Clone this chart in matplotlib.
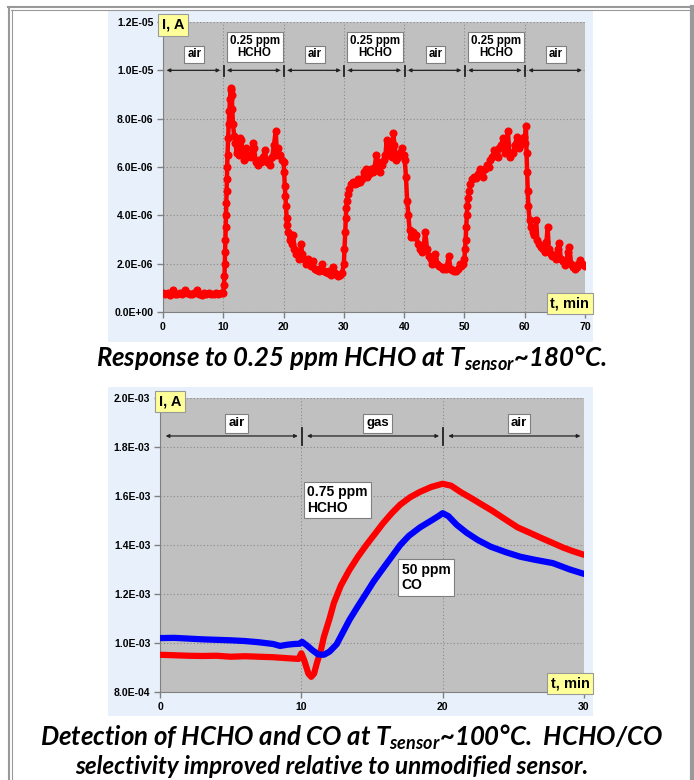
import matplotlib
matplotlib.use("Agg")
import matplotlib.pyplot as plt
from matplotlib.patches import Rectangle
from matplotlib.lines import Line2D
from matplotlib.ticker import FuncFormatter, MultipleLocator

plt.rcParams['font.family'] = ['Liberation Sans', 'DejaVu Sans']
plt.rcParams['mathtext.fontset'] = 'custom'
plt.rcParams['mathtext.it'] = 'Lato:italic:bold'
plt.rcParams['mathtext.rm'] = 'Lato:italic:bold'

# top chart: 0.25 ppm HCHO pulses, t in min, I in 1e-6 A
t_top = [0.0, 0.4, 0.8, 1.2, 1.6, 2.0, 2.4, 2.8, 3.2, 3.6, 4.0, 4.4, 4.8, 5.2, 5.6, 6.0, 6.4, 6.8, 7.2, 7.6,
         8.0, 8.4, 8.8, 9.2, 9.6, 10.0, 10.1, 10.2, 10.25, 10.3, 10.35, 10.4, 10.45, 10.5, 10.55, 10.6, 10.65,
         10.7, 10.8, 10.9, 11.0, 11.1, 11.2, 11.3, 11.4, 11.5, 11.6, 11.8, 12.0, 12.2, 12.4, 12.6, 12.8, 13.0,
         13.2, 13.5, 13.8, 14.0, 14.3, 14.6, 14.9, 15.1, 15.4, 15.7, 16.0, 16.3, 16.6, 16.9, 17.2, 17.5, 17.8,
         18.1, 18.4, 18.7, 18.9, 19.1, 19.4, 19.7, 20.0, 20.1, 20.2, 20.3, 20.4, 20.5, 20.6, 20.8, 21.0, 21.2,
         21.4, 21.6, 21.8, 22.0, 22.3, 22.6, 22.9, 23.1, 23.4, 23.7, 24.0, 24.3, 24.6, 24.9, 25.2, 25.5, 25.8,
         26.1, 26.4, 26.7, 27.0, 27.3, 27.6, 27.9, 28.2, 28.5, 28.8, 29.1, 29.4, 29.7, 30.0, 30.1, 30.2, 30.3,
         30.4, 30.5, 30.7, 30.9, 31.2, 31.5, 31.8, 32.1, 32.4, 32.7, 33.0, 33.3, 33.6, 33.9, 34.2, 34.5, 34.8,
         35.1, 35.4, 35.7, 36.0, 36.3, 36.6, 36.9, 37.1, 37.4, 37.7, 38.0, 38.2, 38.4, 38.7, 39.0, 39.3, 39.6,
         39.9, 40.1, 40.3, 40.5, 40.7, 40.9, 41.1, 41.4, 41.7, 42.0, 42.3, 42.6, 42.9, 43.2, 43.5, 43.8, 44.1,
         44.4, 44.7, 45.0, 45.2, 45.5, 45.8, 46.1, 46.4, 46.7, 47.0, 47.4, 47.7, 48.0, 48.3, 48.6, 48.9, 49.2,
         49.5, 49.8, 50.0, 50.1, 50.2, 50.3, 50.4, 50.5, 50.6, 50.8, 51.0, 51.3, 51.6, 51.9, 52.2, 52.5, 52.8,
         53.1, 53.4, 53.7, 54.0, 54.3, 54.6, 54.9, 55.2, 55.5, 55.8, 56.1, 56.4, 56.7, 57.0, 57.2, 57.5, 57.8,
         58.1, 58.4, 58.7, 59.0, 59.3, 59.6, 59.8, 60.0, 60.2, 60.3, 60.4, 60.5, 60.6, 60.8, 61.0, 61.3, 61.6,
         61.9, 62.1, 62.4, 62.7, 63.0, 63.3, 63.6, 63.8, 64.0, 64.3, 64.6, 64.9, 65.2, 65.5, 65.7, 66.0, 66.3,
         66.6, 66.9, 67.2, 67.4, 67.7, 68.0, 68.3, 68.6, 68.9, 69.2, 69.5, 69.8, 70.0]
i_top = [0.78, 0.74, 0.80, 0.72, 0.92, 0.76, 0.74, 0.78, 0.76, 0.90, 0.78, 0.74, 0.76, 0.78, 0.92, 0.74, 0.72, 0.78, 0.74, 0.78,
         0.76, 0.74, 0.78, 0.76, 0.80, 0.78, 1.1, 1.5, 2.0, 2.5, 3.0, 3.5, 4.0, 4.5, 5.0, 5.5, 6.0,
         6.5, 7.2, 7.8, 8.3, 8.8, 9.2, 9.25, 9.0, 8.4, 7.8, 7.3, 7.0, 6.6, 6.9, 6.5, 7.2, 7.1,
         6.6, 6.3, 6.8, 6.4, 6.5, 6.4, 7.0, 6.8, 6.2, 6.1, 6.3, 6.2, 6.4, 6.7, 6.2, 6.3, 6.1,
         6.4, 6.9, 7.5, 6.5, 6.8, 6.5, 6.3, 6.2, 5.8, 5.2, 4.8, 4.4, 3.9, 3.6, 3.3, 3.0, 3.2,
         2.8, 3.2, 2.6, 2.4, 2.5, 2.2, 2.8, 2.4, 2.2, 2.0, 2.2, 2.0, 1.9, 2.1, 1.8, 1.75, 1.7,
         1.8, 2.0, 1.7, 1.65, 1.6, 1.7, 1.55, 1.85, 1.6, 1.55, 1.5, 1.55, 1.6, 2.0, 2.6, 3.3, 3.9,
         4.3, 4.6, 4.9, 5.1, 5.3, 5.4, 5.3, 5.35, 5.5, 5.4, 5.5, 5.8, 5.9, 5.6, 5.7, 5.9, 5.8,
         6.0, 6.5, 6.2, 5.8, 6.1, 6.3, 6.5, 7.1, 6.5, 6.9, 6.4, 7.4, 6.9, 6.3, 6.4, 6.6, 6.8,
         6.5, 6.3, 5.6, 4.6, 4.0, 3.4, 3.1, 3.3, 3.1, 3.2, 2.8, 2.6, 2.5, 2.7, 3.3, 2.6, 2.3,
         2.2, 2.0, 2.2, 2.4, 2.0, 1.9, 1.85, 1.8, 1.85, 1.8, 2.3, 1.8, 1.72, 1.68, 1.7, 1.8, 2.0,
         1.9, 2.0, 2.2, 2.6, 3.0, 3.5, 4.0, 4.4, 4.7, 5.0, 5.3, 5.5, 5.6, 5.55, 5.7, 5.9, 5.8,
         5.6, 5.9, 6.1, 6.0, 6.3, 6.4, 6.7, 6.5, 6.4, 6.8, 6.9, 7.2, 6.6, 6.9, 7.5, 6.4, 6.6,
         6.6, 6.9, 7.25, 6.8, 6.9, 7.0, 7.25, 7.0, 7.7, 6.6, 5.8, 5.0, 4.4, 3.8, 3.5, 3.3, 3.2,
         3.8, 3.0, 2.8, 2.7, 2.6, 2.5, 2.9, 3.5, 2.6, 2.4, 2.3, 2.35, 2.2, 2.6, 2.85, 2.2, 2.1,
         1.95, 2.1, 2.5, 2.7, 2.0, 1.85, 1.8, 1.85, 2.0, 2.15, 2.0, 1.95, 1.9]
top_segments = ['air', '0.25 ppm\nHCHO', 'air', '0.25 ppm\nHCHO', 'air', '0.25 ppm\nHCHO', 'air']
top_bounds = [0, 10, 20, 30, 40, 50, 60, 70]

# bottom chart: I in 1e-3 A
t_hcho = [0, 1, 2, 3, 4, 5, 6, 7, 8, 9, 9.8, 10.0, 10.2, 10.5, 10.7, 10.9, 11.1, 11.4, 11.6, 12.0, 12.3,
          12.8, 13.4, 14.0, 14.6, 15.2, 15.8, 16.4, 17.0, 17.7, 18.4, 19.2, 20.0, 20.6, 21.3, 22.0, 22.6,
          23.5, 24.5, 25.3, 26.2, 27.0, 27.8, 28.5, 29.2, 30.0]
i_hcho = [0.952, 0.950, 0.948, 0.947, 0.948, 0.944, 0.946, 0.944, 0.942, 0.938, 0.935, 0.958, 0.930, 0.875,
          0.862, 0.875, 0.918, 0.975, 1.026, 1.100, 1.163, 1.235, 1.298, 1.352, 1.400, 1.445, 1.490, 1.530,
          1.565, 1.595, 1.617, 1.637, 1.650, 1.642, 1.615, 1.592, 1.571, 1.540, 1.502, 1.472, 1.449, 1.428,
          1.408, 1.390, 1.375, 1.360]
t_co = [0, 1, 2, 3, 4, 5, 6, 7, 8, 8.5, 9, 9.5, 9.9, 10.05, 10.4, 10.8, 11.2, 11.6, 12.0, 12.5, 13.0,
        13.4, 14.0, 14.6, 15.1, 15.6, 16.3, 17.0, 17.6, 18.4, 19.2, 19.7, 20.0, 20.4, 21.0, 21.7, 22.5,
        23.4, 24.5, 25.5, 26.5, 27.8, 29.0, 30.0]
i_co = [1.020, 1.021, 1.018, 1.015, 1.013, 1.011, 1.008, 1.003, 0.996, 0.988, 0.993, 0.996, 0.997, 1.005,
        0.990, 0.970, 0.953, 0.952, 0.965, 0.995, 1.050, 1.094, 1.150, 1.204, 1.250, 1.290, 1.345, 1.400,
        1.437, 1.472, 1.500, 1.518, 1.530, 1.518, 1.482, 1.450, 1.420, 1.393, 1.370, 1.352, 1.340, 1.326,
        1.300, 1.282]
bot_segments = ['air', 'gas', 'air']
bot_bounds = [0, 10, 20, 30]

W, H = 694, 780
fig = plt.figure(figsize=(W / 100, H / 100), dpi=100)

def fx(px): return px / W
def fy(py): return 1 - py / H

# light blue panels and page border
for y0, y1 in [(10, 342), (387, 716)]:
    fig.patches.append(Rectangle((fx(108), fy(y1)), fx(593) - fx(108), fy(y0) - fy(y1),
                                 transform=fig.transFigure, facecolor='#e8f1fb', edgecolor='none', zorder=-1))
g = '#999999'
fig.lines += [Line2D([fx(8), 1], [fy(7), fy(7)], lw=1.5, color=g, transform=fig.transFigure),
              Line2D([fx(11), fx(690)], [fy(10), fy(10)], lw=0.8, color=g, transform=fig.transFigure),
              Line2D([fx(9), fx(9)], [0, fy(7)], lw=1.5, color=g, transform=fig.transFigure),
              Line2D([fx(12), fx(12)], [0, fy(10)], lw=0.8, color=g, transform=fig.transFigure),
              Line2D([fx(692), fx(692)], [0, fy(7)], lw=3, color=g, transform=fig.transFigure)]

sci = FuncFormatter(lambda v, p: f"{v:.1E}")

def style(ax):
    ax.set_zorder(2)
    ax.set_facecolor('#c0c0c0')
    for s in ['top', 'right']:
        ax.spines[s].set_visible(False)
    for s in ['left', 'bottom']:
        ax.spines[s].set_color('#808080')
    ax.tick_params(length=4, width=1, color='#808080', labelsize=7.5, pad=3)
    for lab in ax.get_xticklabels() + ax.get_yticklabels():
        lab.set_fontweight('bold')
    ax.grid(True, color='#8a8a8a', ls=(0, (1, 2)), lw=0.8)
    ax.set_axisbelow(True)
    ax.yaxis.set_major_formatter(sci)

box = dict(boxstyle='square,pad=0.25', facecolor='white', edgecolor='#7f7f7f', lw=0.8)
ybox = dict(boxstyle='square,pad=0.25', facecolor='#ffff99', edgecolor='#999999', lw=0.8)

# top chart
ax1 = fig.add_axes([fx(163), fy(312), fx(585) - fx(163), fy(22) - fy(312)])
ax1.plot(t_top, [v * 1e-6 for v in i_top], color='red', lw=3.2, marker='o', ms=4.8, mec='red', zorder=3)
ax1.set_xlim(0, 70)
ax1.set_ylim(0, 1.2e-5)
ax1.xaxis.set_major_locator(MultipleLocator(10))
ax1.yaxis.set_major_locator(MultipleLocator(2e-6))
style(ax1)
for k, lab in enumerate(top_segments):
    a, b = top_bounds[k], top_bounds[k + 1]
    ax1.annotate('', xy=(a + 0.6, 1.0e-5), xytext=(b - 0.5, 1.0e-5),
                 arrowprops=dict(arrowstyle='<|-|>', color='#222222', lw=0.9, mutation_scale=5, shrinkA=0, shrinkB=0))
    yl = 1.066e-5 if lab == 'air' else 1.095e-5
    ax1.text((a + b) / 2 + 0.2, yl, lab, ha='center', va='center', fontsize=8.3, fontweight='bold',
             linespacing=1.0, bbox=box)
for b in top_bounds[1:-1]:
    ax1.plot([b + 0.1, b + 0.1], [0.975e-5, 1.02e-5], color='#222222', lw=1.3, zorder=4)
ax1.text(0.024, 0.99, 'I, A', transform=ax1.transAxes, ha='center', va='center', fontsize=10.5,
         fontweight='bold', bbox=ybox, clip_on=False, zorder=5)
ax1.text(0.964, 0.03, 't, min', transform=ax1.transAxes, ha='center', va='center', fontsize=10.5,
         fontweight='bold', bbox=ybox, clip_on=False, zorder=5)

# bottom chart
ax2 = fig.add_axes([fx(160), fy(692), fx(584) - fx(160), fy(398) - fy(692)])
ax2.plot(t_hcho, [v * 1e-3 for v in i_hcho], color='red', lw=4.5, solid_capstyle='round', zorder=3)
ax2.plot(t_co, [v * 1e-3 for v in i_co], color='blue', lw=4.5, solid_capstyle='round', zorder=3)
ax2.set_xlim(0, 30)
ax2.set_ylim(8e-4, 2e-3)
ax2.xaxis.set_major_locator(MultipleLocator(10))
ax2.yaxis.set_major_locator(MultipleLocator(2e-4))
style(ax2)
for k, lab in enumerate(bot_segments):
    a, b = bot_bounds[k], bot_bounds[k + 1]
    ax2.annotate('', xy=(a + 0.4, 1.845e-3), xytext=(b - 0.25, 1.845e-3),
                 arrowprops=dict(arrowstyle='<|-|>', color='#222222', lw=0.9, mutation_scale=5, shrinkA=0, shrinkB=0))
    ax2.text((a + b) / 2 + 0.4, 1.896e-3, lab, ha='center', va='center', fontsize=9.5, fontweight='bold', bbox=box)
for b in bot_bounds[1:-1]:
    ax2.plot([b + 0.05, b + 0.05], [1.808e-3, 1.878e-3], color='#222222', lw=1.3, zorder=4)
ax2.text(10.4, 1.584e-3, '0.75 ppm\nHCHO', ha='left', va='center', fontsize=10, fontweight='bold',
         linespacing=1.15, bbox=dict(box, pad=0.3), zorder=5)
ax2.text(17.1, 1.267e-3, '50 ppm\nCO', ha='left', va='center', fontsize=10, fontweight='bold',
         linespacing=1.15, bbox=dict(box, pad=0.3), zorder=5)
ax2.text(0.024, 0.988, 'I, A', transform=ax2.transAxes, ha='center', va='center', fontsize=10.5,
         fontweight='bold', bbox=ybox, clip_on=False, zorder=5)
ax2.text(0.967, 0.03, 't, min', transform=ax2.transAxes, ha='center', va='center', fontsize=10.5,
         fontweight='bold', bbox=ybox, clip_on=False, zorder=5)

tfont = dict(family=['Lato', 'DejaVu Sans'], style='italic', weight='bold', ha='center', va='center')
fig.text(fx(351), fy(358), r'Response to 0.25 ppm HCHO at $T_{sensor}$~180°C.', fontsize=18.5, **tfont)
fig.text(fx(351), fy(737), r'Detection of HCHO and CO at $T_{sensor}$~100°C.  HCHO/CO', fontsize=18.5, **tfont)
fig.text(fx(332), fy(767), 'selectivity improved relative to unmodified sensor.', fontsize=17.5, **tfont)

fig.savefig('out.png', dpi=100)
